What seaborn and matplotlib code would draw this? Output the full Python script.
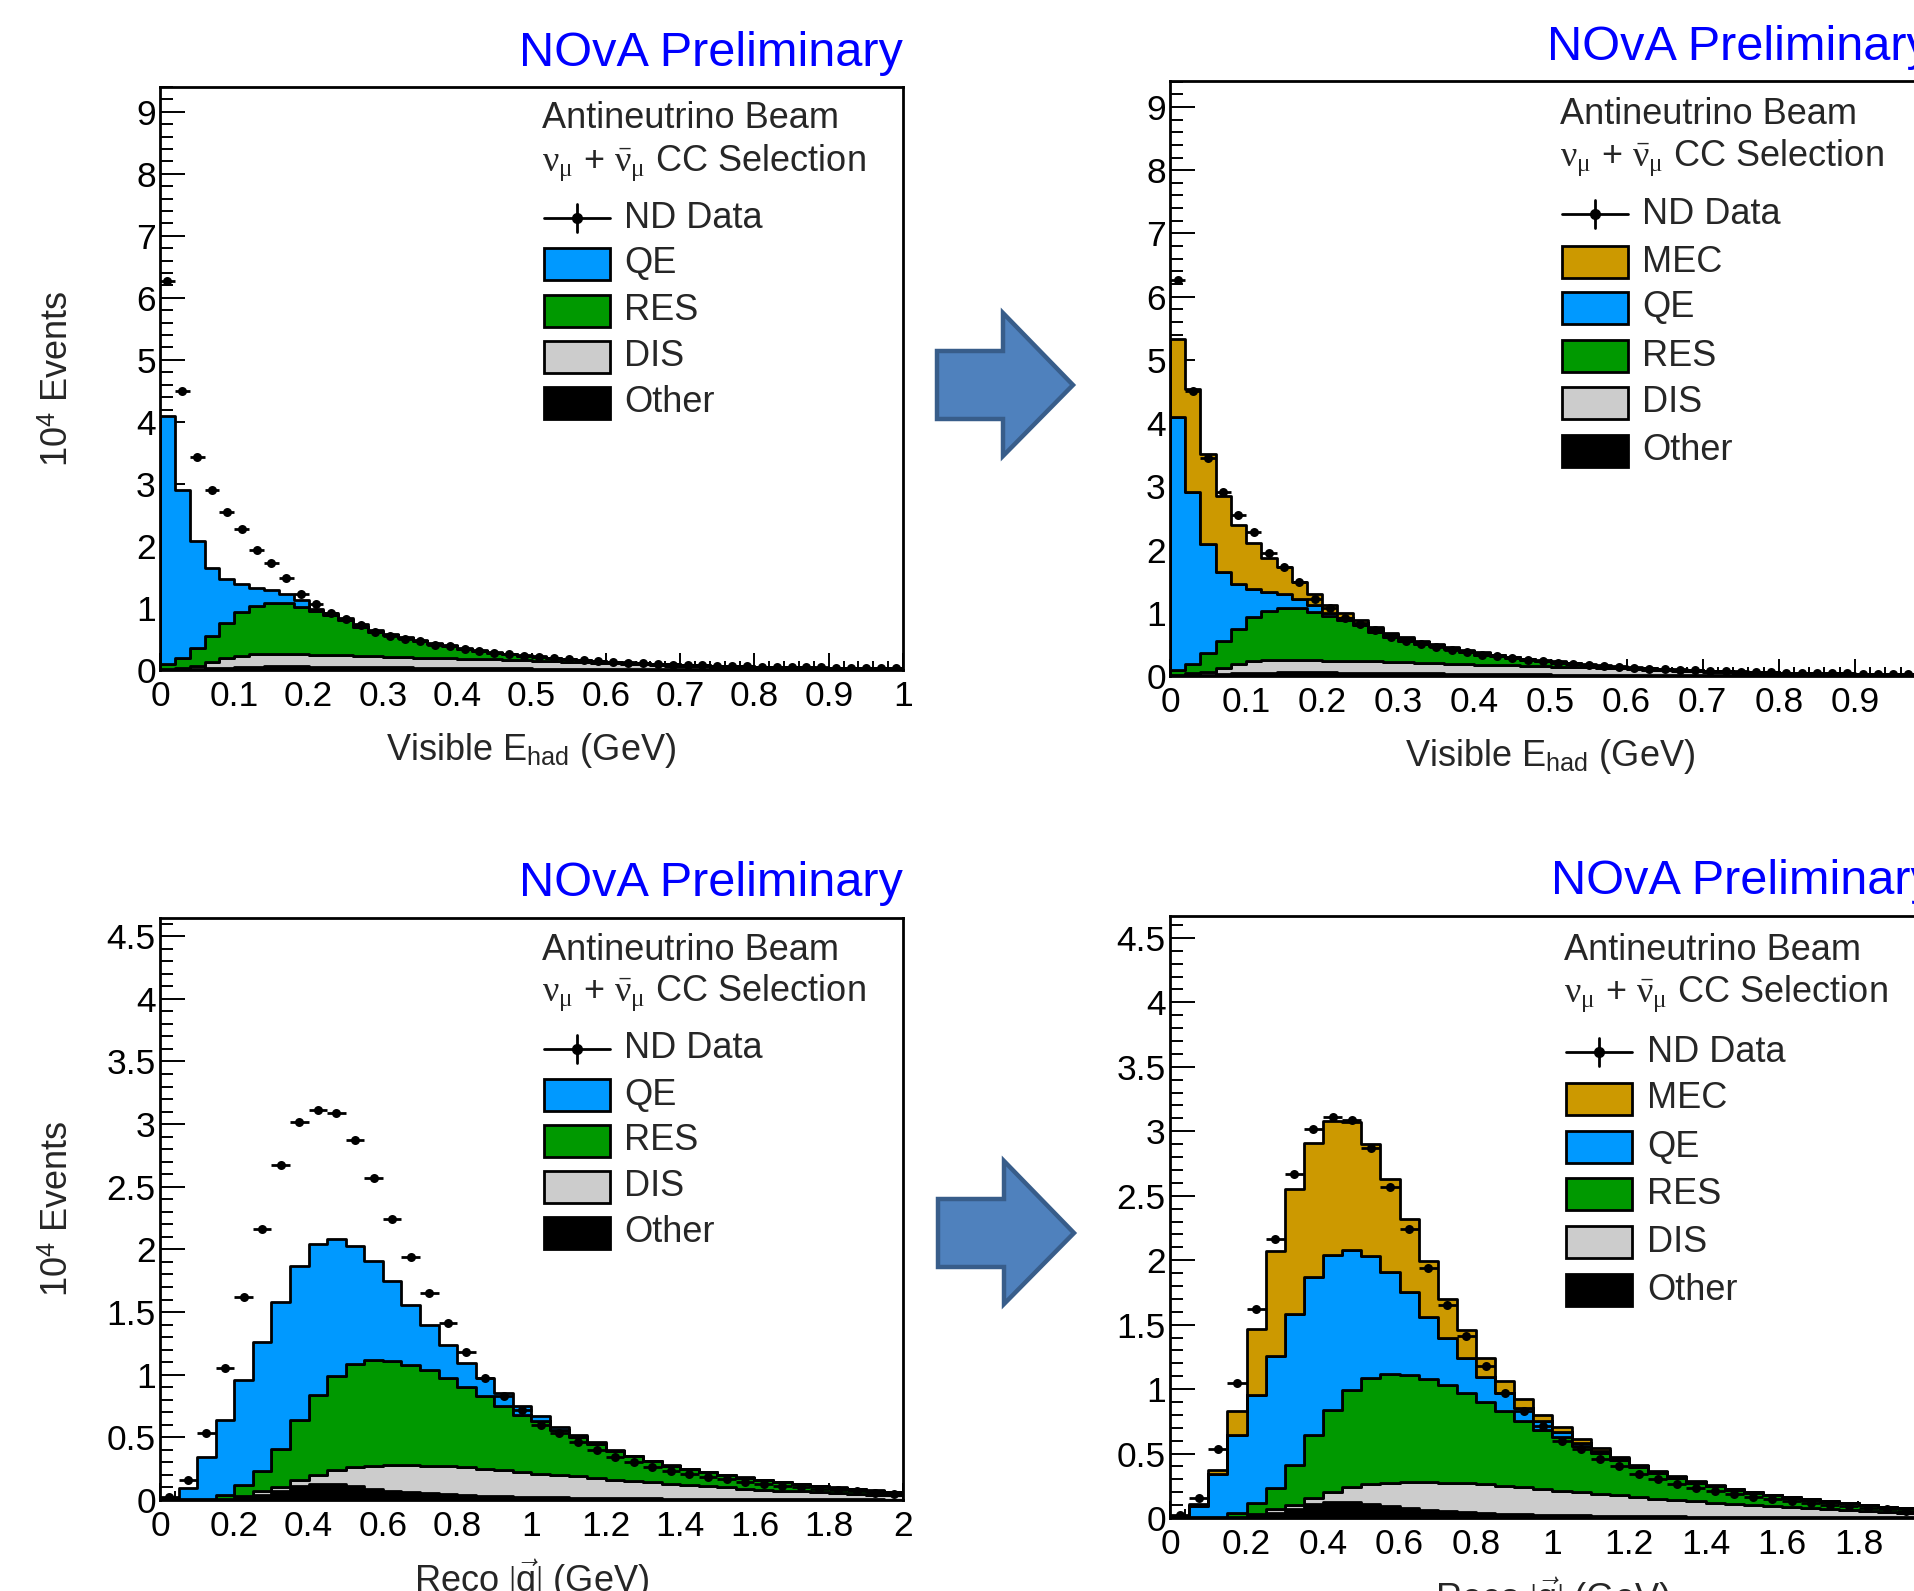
import numpy as np
import pandas as pd
import matplotlib
matplotlib.use("Agg")
import matplotlib.pyplot as plt
import seaborn as sns
from matplotlib.patches import Polygon, Rectangle
from matplotlib.lines import Line2D
from matplotlib.ticker import MultipleLocator, AutoMinorLocator, FuncFormatter

# ---------------- data (units of 10^4 events) ----------------
# Visible E_had: 50 bins of 0.02 GeV from 0 to 1 GeV; values are stack tops as read
ehad_edges_range = (0.0, 1.0)
ehad_nbins = 50
ehad_other_top = [0.005, 0.01, 0.02, 0.03, 0.04, 0.05, 0.055, 0.06, 0.06, 0.058,
                  0.056, 0.054, 0.052, 0.05, 0.047, 0.045, 0.042, 0.04, 0.038, 0.035,
                  0.033, 0.031, 0.029, 0.027, 0.025, 0.023, 0.021, 0.02, 0.018, 0.017,
                  0.016, 0.015, 0.014, 0.013, 0.012, 0.011, 0.01, 0.009, 0.009, 0.008,
                  0.008, 0.007, 0.007, 0.006, 0.006, 0.005, 0.005, 0.005, 0.004, 0.004]
ehad_dis_top = [0.015, 0.04, 0.07, 0.13, 0.19, 0.23, 0.25, 0.26, 0.26, 0.25,
                0.245, 0.24, 0.235, 0.23, 0.22, 0.215, 0.21, 0.2, 0.195, 0.19,
                0.18, 0.175, 0.17, 0.165, 0.155, 0.148, 0.142, 0.136, 0.13, 0.12,
                0.11, 0.1, 0.09, 0.08, 0.072, 0.065, 0.058, 0.052, 0.047, 0.042,
                0.038, 0.034, 0.031, 0.028, 0.025, 0.022, 0.02, 0.018, 0.016, 0.014]
ehad_res_top = [0.09, 0.19, 0.36, 0.55, 0.75, 0.94, 1.03, 1.08, 1.08, 1.02,
                0.95, 0.88, 0.80, 0.70, 0.62, 0.56, 0.51, 0.47, 0.42, 0.38,
                0.34, 0.31, 0.28, 0.25, 0.23, 0.21, 0.19, 0.17, 0.155, 0.14,
                0.128, 0.117, 0.107, 0.097, 0.089, 0.081, 0.074, 0.068, 0.062, 0.057,
                0.052, 0.048, 0.044, 0.041, 0.038, 0.035, 0.032, 0.030, 0.028, 0.026]
ehad_qe_top = [4.10, 2.91, 2.08, 1.64, 1.46, 1.38, 1.33, 1.29, 1.22, 1.13,
               0.99, 0.92, 0.84, 0.74, 0.65, 0.585, 0.535, 0.49, 0.44, 0.40,
               0.36, 0.325, 0.295, 0.265, 0.243, 0.222, 0.2, 0.18, 0.164, 0.148,
               0.134, 0.121, 0.11, 0.1, 0.092, 0.083, 0.076, 0.07, 0.064, 0.058,
               0.053, 0.049, 0.045, 0.042, 0.039, 0.036, 0.034, 0.031, 0.029, 0.027]
ehad_mec_top = [5.33, 4.54, 3.51, 2.84, 2.39, 2.11, 1.86, 1.72, 1.49, 1.29,
                1.12, 0.99, 0.89, 0.78, 0.685, 0.615, 0.56, 0.51, 0.46, 0.415,
                0.375, 0.34, 0.305, 0.275, 0.252, 0.23, 0.207, 0.187, 0.17, 0.153,
                0.138, 0.125, 0.113, 0.103, 0.094, 0.085, 0.078, 0.072, 0.066, 0.06,
                0.055, 0.05, 0.046, 0.043, 0.04, 0.037, 0.035, 0.032, 0.03, 0.028]
ehad_data = [6.27, 4.50, 3.44, 2.91, 2.55, 2.28, 1.94, 1.72, 1.48, 1.22,
             1.07, 0.92, 0.83, 0.73, 0.62, 0.55, 0.50, 0.46, 0.41, 0.38,
             0.34, 0.31, 0.28, 0.26, 0.23, 0.21, 0.19, 0.17, 0.155, 0.14,
             0.125, 0.115, 0.105, 0.095, 0.088, 0.08, 0.074, 0.068, 0.063, 0.058,
             0.054, 0.05, 0.047, 0.044, 0.041, 0.038, 0.036, 0.034, 0.032, 0.03]

# Reco |q|: 40 bins of 0.05 GeV from 0 to 2 GeV
q_edges_range = (0.0, 2.0)
q_nbins = 40
q_other_top = [0, 0.001, 0.002, 0.005, 0.015, 0.04, 0.07, 0.11, 0.125, 0.125,
               0.11, 0.09, 0.075, 0.062, 0.052, 0.045, 0.039, 0.034, 0.03, 0.026,
               0.023, 0.02, 0.018, 0.016, 0.014, 0.013, 0.012, 0.011, 0.01, 0.009,
               0.008, 0.007, 0.007, 0.006, 0.006, 0.005, 0.005, 0.004, 0.004, 0.003]
q_dis_top = [0, 0.002, 0.004, 0.01, 0.03, 0.07, 0.10, 0.157, 0.20, 0.24,
             0.263, 0.274, 0.277, 0.277, 0.274, 0.27, 0.26, 0.25, 0.237, 0.223,
             0.21, 0.2, 0.19, 0.175, 0.16, 0.15, 0.14, 0.13, 0.12, 0.11,
             0.1, 0.09, 0.082, 0.075, 0.068, 0.061, 0.054, 0.048, 0.042, 0.037]
q_res_top = [0, 0.005, 0.01, 0.04, 0.12, 0.23, 0.41, 0.64, 0.84, 0.99,
             1.085, 1.12, 1.11, 1.075, 1.035, 0.97, 0.90, 0.83, 0.75, 0.68,
             0.63, 0.56, 0.505, 0.45, 0.395, 0.35, 0.31, 0.275, 0.245, 0.22,
             0.196, 0.176, 0.157, 0.142, 0.127, 0.113, 0.098, 0.086, 0.074, 0.064]
q_qe_top = [0.01, 0.096, 0.34, 0.64, 0.955, 1.26, 1.58, 1.87, 2.04, 2.08,
            2.03, 1.91, 1.75, 1.56, 1.40, 1.24, 1.09, 0.97, 0.85, 0.75,
            0.67, 0.58, 0.52, 0.46, 0.40, 0.355, 0.315, 0.28, 0.25, 0.225,
            0.2, 0.18, 0.16, 0.145, 0.13, 0.115, 0.1, 0.088, 0.076, 0.065]
q_mec_top = [0.012, 0.105, 0.375, 0.83, 1.47, 2.07, 2.55, 2.91, 3.08, 3.07,
             2.90, 2.63, 2.32, 1.99, 1.70, 1.455, 1.24, 1.06, 0.92, 0.80,
             0.705, 0.61, 0.54, 0.475, 0.415, 0.365, 0.322, 0.285, 0.254, 0.227,
             0.202, 0.181, 0.161, 0.146, 0.13, 0.116, 0.101, 0.089, 0.077, 0.066]
q_data = [0.02, 0.157, 0.535, 1.05, 1.62, 2.165, 2.67, 3.02, 3.11, 3.09,
          2.87, 2.57, 2.24, 1.94, 1.65, 1.41, 1.18, 0.97, 0.83, 0.715,
          0.60, 0.535, 0.46, 0.40, 0.343, 0.30, 0.265, 0.235, 0.21, 0.185,
          0.165, 0.145, 0.128, 0.115, 0.1, 0.09, 0.078, 0.068, 0.058, 0.05]

# ---------------- style ----------------
sns.set_theme(style="white")
plt.rcParams["font.family"] = ["Liberation Sans", "DejaVu Sans"]
plt.rcParams["mathtext.fontset"] = "custom"
plt.rcParams["mathtext.rm"] = "Liberation Serif"
plt.rcParams["mathtext.it"] = "Liberation Serif:italic"
plt.rcParams["mathtext.bf"] = "Liberation Serif:bold"

COLORS = {"MEC": "#CC9900", "QE": "#0099FF", "RES": "#009900",
          "DIS": "#CCCCCC", "Other": "#000000"}
FS = 26
LW = 2.0

W, H = 1914, 1591
fig = plt.figure(figsize=(W / 100, H / 100), dpi=100)
fig.patch.set_facecolor("white")


def fx(px):
    return px / W


def fy(py):
    return 1 - py / H


def draw_panel(rect_px, edges_range, nbins, tops, data, comps, ylim,
               xmajor, ymajor, xlabel, ylabel):
    left, top, right, bottom = rect_px
    ax = fig.add_axes([fx(left), fy(bottom), (right - left) / W, (bottom - top) / H])
    edges = np.linspace(edges_range[0], edges_range[1], nbins + 1)
    centers = (edges[:-1] + edges[1:]) / 2
    rows = []
    prev = np.zeros(nbins)
    for c in ["Other", "DIS", "RES", "QE", "MEC"]:
        if c not in comps:
            continue
        t = np.asarray(tops[c], dtype=float)
        for xc, w in zip(centers, np.clip(t - prev, 0, None)):
            rows.append({"x": xc, "w": w, "comp": c})
        prev = t
    df = pd.DataFrame(rows)
    sns.histplot(data=df, x="x", weights="w", hue="comp", hue_order=comps,
                 multiple="stack", bins=nbins, binrange=edges_range,
                 element="step", fill=True,
                 palette=COLORS, edgecolor="black", linewidth=LW, alpha=1,
                 legend=False, ax=ax)
    half = (edges[1] - edges[0]) / 2
    ax.errorbar(centers, data, xerr=half, fmt="none", ecolor="black",
                elinewidth=2.0, capsize=0, zorder=5)
    sns.scatterplot(x=centers, y=data, color="black", s=42, linewidth=0,
                    zorder=6, ax=ax, legend=False)

    ax.set_xlim(edges[0], edges[-1])
    ax.set_ylim(*ylim)
    ax.set_xlabel("")
    ax.set_ylabel("")
    ax.xaxis.set_major_locator(MultipleLocator(xmajor))
    ax.xaxis.set_minor_locator(AutoMinorLocator(5))
    ax.yaxis.set_major_locator(MultipleLocator(ymajor))
    ax.yaxis.set_minor_locator(AutoMinorLocator(5))
    fmt = FuncFormatter(lambda v, p: f"{v:g}")
    ax.xaxis.set_major_formatter(fmt)
    ax.yaxis.set_major_formatter(fmt)
    ax.tick_params(axis="both", which="both", direction="in", top=False,
                   right=False, bottom=True, left=True, labelsize=25.5,
                   color="black", labelcolor="black")
    ax.tick_params(axis="x", which="major", length=12, width=1.4, pad=7)
    ax.tick_params(axis="x", which="minor", length=6.5, width=1.4)
    ax.tick_params(axis="y", which="major", length=18, width=1.4, pad=3)
    ax.tick_params(axis="y", which="minor", length=9.5, width=1.4)
    for s in ax.spines.values():
        s.set_visible(True)
        s.set_linewidth(2.0)
        s.set_color("black")
    ax.set_facecolor("white")

    ax.annotate("NOvA Preliminary", xy=(1, 1), xycoords="axes fraction",
                xytext=(0, 34 * 0.72), textcoords="offset points",
                ha="right", va="center", color="#0000FF", fontsize=35)
    ax.annotate(xlabel, xy=(0.5, 0), xycoords="axes fraction",
                xytext=(0, -80 * 0.72), textcoords="offset points",
                ha="center", va="center", fontsize=FS, annotation_clip=False)
    if ylabel:
        ax.annotate(ylabel, xy=(0, 0.5), xycoords="axes fraction",
                    xytext=(-102 * 0.72, 0), textcoords="offset points",
                    ha="center", va="center", rotation=90, fontsize=FS)
    return ax


def draw_legend(header_x, box_x, text_x, header_y, entries_y, entries):
    box_w, box_h = 66, 32
    dy = 3
    fig.text(fx(header_x), fy(header_y[0] + dy), "Antineutrino Beam",
             ha="left", va="center", fontsize=FS)
    fig.text(fx(header_x), fy(header_y[1] + dy),
             r"$\mathrm{\nu}_{\mathrm{\mu}}$ + $\bar{\mathrm{\nu}}_{\mathrm{\mu}}$ CC Selection",
             ha="left", va="center", fontsize=FS)
    for name, y in zip(entries, entries_y):
        y = y + dy
        if name == "ND Data":
            fig.add_artist(Line2D([fx(box_x), fx(box_x + box_w)], [fy(y), fy(y)],
                                  color="black", lw=LW))
            fig.add_artist(Line2D([fx(box_x + box_w / 2)] * 2, [fy(y - 14), fy(y + 14)],
                                  color="black", lw=LW))
            fig.add_artist(Line2D([fx(box_x + box_w / 2)], [fy(y)], marker="o",
                                  ms=7, color="black", lw=0))
        else:
            fig.add_artist(Rectangle((fx(box_x), fy(y + box_h / 2)), box_w / W, box_h / H,
                                     facecolor=COLORS[name], edgecolor="black",
                                     lw=LW, transform=fig.transFigure))
        fig.text(fx(text_x), fy(y), name, ha="left", va="center", fontsize=FS)


def draw_arrow(x0, yc):
    pts = [(x0, yc - 34), (x0 + 66, yc - 34), (x0 + 66, yc - 72), (x0 + 136, yc),
           (x0 + 66, yc + 71), (x0 + 66, yc + 34), (x0, yc + 34)]
    poly = Polygon([(fx(px), fy(py)) for px, py in pts], closed=True,
                   facecolor="#4F81BD", edgecolor="#385D8A", lw=3.2,
                   joinstyle="miter", transform=fig.transFigure)
    fig.add_artist(poly)


ehad_tops = {"Other": ehad_other_top, "DIS": ehad_dis_top, "RES": ehad_res_top,
             "QE": ehad_qe_top, "MEC": ehad_mec_top}
q_tops = {"Other": q_other_top, "DIS": q_dis_top, "RES": q_res_top,
          "QE": q_qe_top, "MEC": q_mec_top}

xlab_top = r"Visible E$_{\mathregular{had}}$ (GeV)"
xlab_bot = r"Reco $|\vec{\mathregular{q}}|$ (GeV)"
ylab = r"10$^{\mathregular{4}}$ Events"

# top-left
draw_panel((160, 87, 903, 670), ehad_edges_range, ehad_nbins, ehad_tops, ehad_data,
           ["QE", "RES", "DIS", "Other"], (0, 9.4), 0.1, 1, xlab_top, ylab)
draw_legend(542, 544, 624, [116, 160], [215, 261, 308, 354, 400],
            ["ND Data", "QE", "RES", "DIS", "Other"])
# top-right
draw_panel((1170, 81, 1931, 676), ehad_edges_range, ehad_nbins, ehad_tops, ehad_data,
           ["MEC", "QE", "RES", "DIS", "Other"], (0, 9.41), 0.1, 1, xlab_top, None)
draw_legend(1560, 1562, 1642, [111, 155], [211, 259, 305, 353, 400, 448],
            ["ND Data", "MEC", "QE", "RES", "DIS", "Other"])
# bottom-left
draw_panel((160, 918, 903, 1500), q_edges_range, q_nbins, q_tops, q_data,
           ["QE", "RES", "DIS", "Other"], (0, 4.645), 0.2, 0.5, xlab_bot, ylab)
draw_legend(542, 544, 624, [947, 990], [1046, 1092, 1138, 1184, 1230],
            ["ND Data", "QE", "RES", "DIS", "Other"])
# bottom-right
draw_panel((1170, 916, 1935, 1518), q_edges_range, q_nbins, q_tops, q_data,
           ["MEC", "QE", "RES", "DIS", "Other"], (0, 4.67), 0.2, 0.5, xlab_bot, None)
draw_legend(1564, 1566, 1647, [947, 991], [1049, 1096, 1144, 1191, 1239, 1287],
            ["ND Data", "MEC", "QE", "RES", "DIS", "Other"])

draw_arrow(937, 385)
draw_arrow(938, 1233)

fig.savefig("out.png", dpi=100, facecolor="white")
